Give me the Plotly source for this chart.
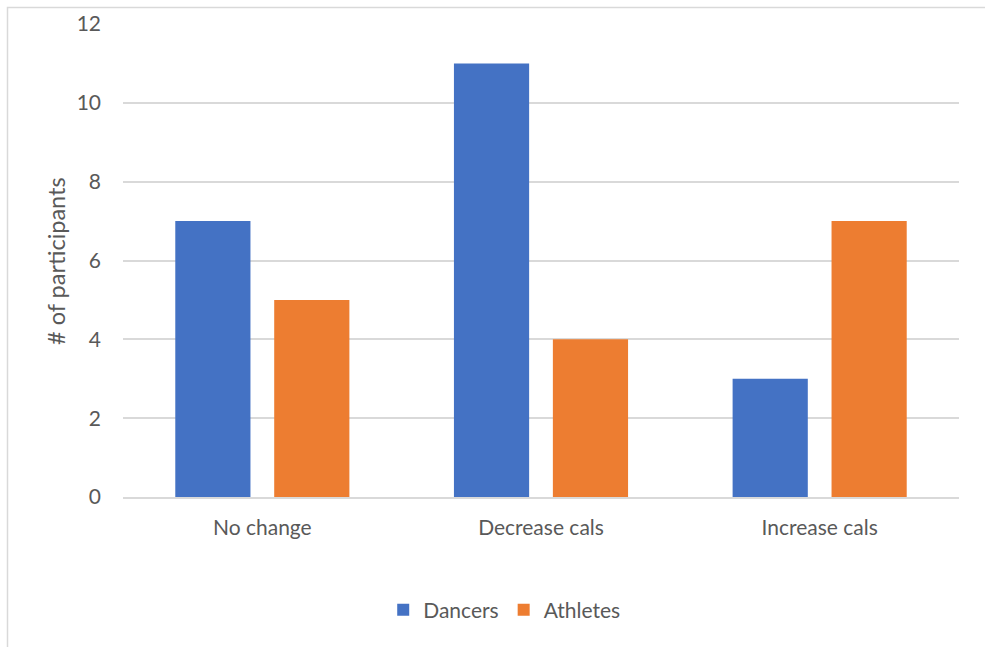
import plotly.graph_objects as go

categories = ["No change", "Decrease cals", "Increase cals"]
dancers = [7, 11, 3]
athletes = [5, 4, 7]
y_ticks = [0, 2, 4, 6, 8, 10, 12]

W, H = 985, 647
L, R, T, B = 123, 26, 24, 150
pw, ph = W - L - R, H - T - B

def px_x(x):
    return (x - L) / pw

def px_y(y):
    return (H - B - y) / ph

font_family = "Lato, 'Open Sans', sans-serif"
text_color = "#595959"

fig = go.Figure()
fig.add_trace(go.Bar(name="Dancers", x=categories, y=dancers, marker_color="#4472C4",
                     marker_line_width=0))
fig.add_trace(go.Bar(name="Athletes", x=categories, y=athletes, marker_color="#ED7D31",
                     marker_line_width=0))

fig.update_layout(
    width=W, height=H,
    margin=dict(l=L, r=R, t=T, b=B, autoexpand=False),
    paper_bgcolor="white", plot_bgcolor="white",
    barmode="group", bargap=0.29, bargroupgap=0.24,
    font=dict(family=font_family, color=text_color, size=21),
    showlegend=True,
    legend=dict(orientation="h", x=0.456, xanchor="center", y=px_y(610), yanchor="middle",
                font=dict(size=21, color=text_color), itemwidth=30,
                traceorder="normal"),
    xaxis=dict(showgrid=False, showline=True, linecolor="#D9D9D9", linewidth=1.5,
               ticks="", tickfont=dict(size=21, color=text_color), ticklabelstandoff=11,
               automargin=False),
    yaxis=dict(range=[0, 12], tickvals=y_ticks, showgrid=True, gridcolor="#D9D9D9",
               gridwidth=1.5, zeroline=False, showline=False, ticks="",
               tickfont=dict(size=21, color=text_color), ticklabelstandoff=21,
               automargin=False),
    shapes=[dict(type="rect", xref="paper", yref="paper",
                 x0=px_x(7.5), x1=px_x(1100), y0=px_y(800), y1=px_y(7.5),
                 line=dict(color="#D9D9D9", width=1.5), fillcolor="rgba(0,0,0,0)",
                 layer="below")],
    annotations=[dict(text="# of participants", xref="paper", yref="paper",
                      x=px_x(56), y=px_y(261), textangle=-90, showarrow=False,
                      xanchor="center", yanchor="middle",
                      font=dict(size=23.5, color=text_color))],
)

fig.write_html("out.html")
